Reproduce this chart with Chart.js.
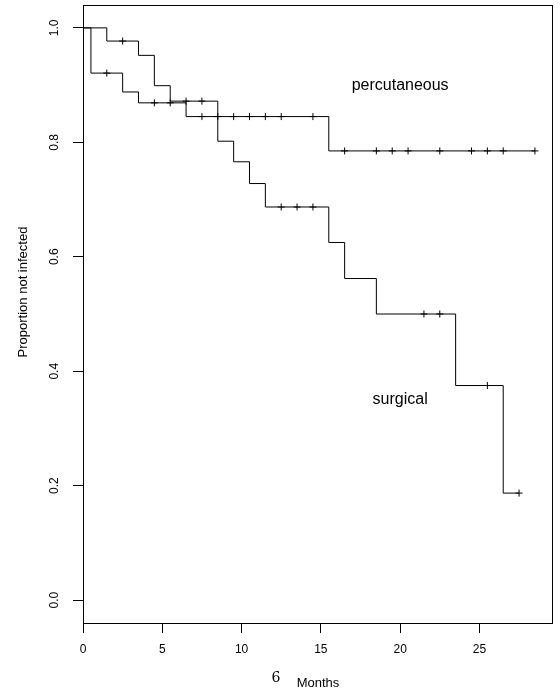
<!DOCTYPE html>
<html>
<head>
<meta charset="utf-8">
<script src="https://cdn.jsdelivr.net/npm/chart.js@4.4.1/dist/chart.umd.min.js"></script>
<style>
  html, body { margin: 0; padding: 0; background: #fff; }
  canvas { display: block; }
</style>
</head>
<body>
<canvas id="kmChart" width="560" height="693"></canvas>
<script>
// --- DATA (Kaplan-Meier curves) ---
const surgTimes = [0, 1.5, 3.5, 4.5, 5.5, 8.5, 9.5, 10.5, 11.5, 15.5, 16.5, 18.5, 23.5, 26.5, 27.5];
const surgSurv  = [1, 0.977, 0.952, 0.899, 0.872, 0.802, 0.766, 0.728, 0.687, 0.625, 0.562, 0.500, 0.375, 0.187, 0.187];
const surgCensTimes = [2.5, 6.5, 7.5, 12.5, 13.5, 14.5, 21.5, 22.5, 25.5, 27.5];
const surgCensSurv  = [0.977, 0.872, 0.872, 0.687, 0.687, 0.687, 0.500, 0.500, 0.375, 0.187];

const percTimes = [0, 0.5, 2.5, 3.5, 6.5, 15.5, 28.5];
const percSurv  = [1, 0.921, 0.888, 0.869, 0.845, 0.785, 0.785];
const percCensTimes = [1.5, 4.5, 5.5, 7.5, 8.5, 9.5, 10.5, 11.5, 12.5, 14.5,
                       16.5, 18.5, 19.5, 20.5, 22.5, 24.5, 25.5, 26.5, 28.5];
const percCensSurv  = [0.921, 0.869, 0.869, 0.845, 0.845, 0.845, 0.845, 0.845, 0.845, 0.845,
                       0.785, 0.785, 0.785, 0.785, 0.785, 0.785, 0.785, 0.785, 0.785];

const xTicks = [0, 5, 10, 15, 20, 25];
const yTicks = [0, 0.2, 0.4, 0.6, 0.8, 1.0];

const curveLabels = ['percutaneous', 'surgical'];
const curveLabelX = [20, 20];
const curveLabelY = [0.9, 0.35];

const FONT = '"Liberation Sans", Arial, Helvetica, sans-serif';

function toPoints(xs, ys) {
    return xs.map((x, i) => ({ x: x, y: ys[i] }));
}

// box, rotated y labels, titles and curve labels (R style)
const rFrame = {
    id: 'rFrame',
    afterDraw(chart) {
        const ctx = chart.ctx;
        const a = chart.chartArea;
        const xs = chart.scales.x;
        const ys = chart.scales.y;
        ctx.save();
        ctx.strokeStyle = '#000';
        ctx.lineWidth = 1;
        ctx.strokeRect(Math.round(a.left) + 0.5, Math.round(a.top) + 0.5,
                       Math.round(a.right - a.left) - 1, Math.round(a.bottom - a.top));

        ctx.fillStyle = '#000';
        ctx.textAlign = 'center';
        ctx.textBaseline = 'middle';

        // y tick labels, rotated
        ctx.font = '12px ' + FONT;
        yTicks.forEach(v => {
            ctx.save();
            ctx.translate(55, ys.getPixelForValue(v));
            ctx.rotate(-Math.PI / 2);
            ctx.fillText(v.toFixed(1), 0, 0);
            ctx.restore();
        });

        // y title
        ctx.font = '13px ' + FONT;
        ctx.save();
        ctx.translate(23, 292);
        ctx.rotate(-Math.PI / 2);
        ctx.fillText('Proportion not infected', 0, 0);
        ctx.restore();

        // x title + page number
        ctx.fillText('Months', (a.left + a.right) / 2, 683);
        ctx.font = '14px "DejaVu Serif", "Liberation Serif", serif';
        ctx.fillText('6', 276, 678);

        // curve labels
        ctx.font = '16px ' + FONT;
        curveLabels.forEach((t, i) => {
            ctx.fillText(t, xs.getPixelForValue(curveLabelX[i]), ys.getPixelForValue(curveLabelY[i]));
        });
        ctx.restore();
    }
};

const lineStyle = {
    showLine: true,
    stepped: true,
    borderColor: '#000',
    borderWidth: 1,
    pointRadius: 0,
    fill: false
};
const markStyle = {
    showLine: false,
    pointStyle: 'cross',
    pointRadius: 3.5,
    borderColor: '#000',
    borderWidth: 1
};

new Chart(document.getElementById('kmChart').getContext('2d'), {
    type: 'scatter',
    data: {
        datasets: [
            Object.assign({ label: 'surgical', data: toPoints(surgTimes, surgSurv) }, lineStyle),
            Object.assign({ label: 'percutaneous', data: toPoints(percTimes, percSurv) }, lineStyle),
            Object.assign({ label: 'surgical censored', data: toPoints(surgCensTimes, surgCensSurv) }, markStyle),
            Object.assign({ label: 'percutaneous censored', data: toPoints(percCensTimes, percCensSurv) }, markStyle)
        ]
    },
    options: {
        responsive: false,
        animation: false,
        devicePixelRatio: 1,
        layout: { padding: { left: 0, right: 7, top: 3, bottom: 0 } },
        scales: {
            x: {
                type: 'linear',
                min: 0,
                max: 29.64,
                afterBuildTicks: s => { s.ticks = xTicks.map(v => ({ value: v })); },
                afterFit: s => { s.height = 70; },
                ticks: {
                    color: '#000',
                    font: { family: FONT, size: 12 },
                    padding: 9,
                    maxRotation: 0,
                    autoSkip: false
                },
                grid: { drawOnChartArea: false, drawTicks: true, tickLength: 10, color: '#000' },
                border: { display: false }
            },
            y: {
                type: 'linear',
                min: -0.04,
                max: 1.04,
                afterBuildTicks: s => { s.ticks = yTicks.map(v => ({ value: v })); },
                afterFit: s => { s.width = 83; },
                ticks: { display: false },
                grid: { drawOnChartArea: false, drawTicks: true, tickLength: 10, color: '#000' },
                border: { display: false }
            }
        },
        plugins: {
            legend: { display: false },
            tooltip: { enabled: false }
        }
    },
    plugins: [rFrame]
});
</script>
</body>
</html>
